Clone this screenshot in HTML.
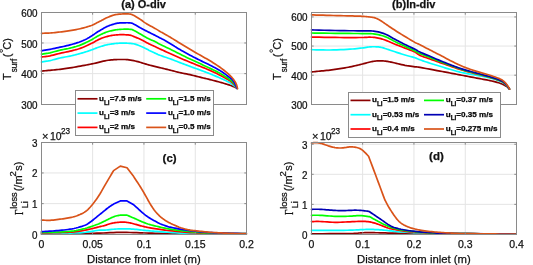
<!DOCTYPE html>
<html><head><meta charset="utf-8"><title>Surface temperature and Li loss</title>
<style>
html,body{margin:0;padding:0;background:#fff;}
body{width:533px;height:265px;overflow:hidden;}
svg{display:block;will-change:transform;}
text{font-family:"Liberation Sans",sans-serif;stroke:#111;stroke-width:0.25px;}
</style></head><body>
<svg width="533" height="265" viewBox="0 0 533 265" font-family="Liberation Sans, sans-serif" fill="#111">
<rect width="533" height="265" fill="#fff"/>
<line x1="92.62" y1="12.50" x2="92.62" y2="104.50" stroke="#e4e4e4" stroke-width="1"/>
<line x1="143.95" y1="12.50" x2="143.95" y2="104.50" stroke="#e4e4e4" stroke-width="1"/>
<line x1="195.27" y1="12.50" x2="195.27" y2="104.50" stroke="#e4e4e4" stroke-width="1"/>
<line x1="41.50" y1="73.63" x2="246.50" y2="73.63" stroke="#e4e4e4" stroke-width="1"/>
<line x1="41.50" y1="42.97" x2="246.50" y2="42.97" stroke="#e4e4e4" stroke-width="1"/>
<line x1="362.62" y1="12.50" x2="362.62" y2="104.50" stroke="#e4e4e4" stroke-width="1"/>
<line x1="413.95" y1="12.50" x2="413.95" y2="104.50" stroke="#e4e4e4" stroke-width="1"/>
<line x1="465.27" y1="12.50" x2="465.27" y2="104.50" stroke="#e4e4e4" stroke-width="1"/>
<line x1="311.50" y1="75.18" x2="516.50" y2="75.18" stroke="#e4e4e4" stroke-width="1"/>
<line x1="311.50" y1="46.06" x2="516.50" y2="46.06" stroke="#e4e4e4" stroke-width="1"/>
<line x1="311.50" y1="16.94" x2="516.50" y2="16.94" stroke="#e4e4e4" stroke-width="1"/>
<line x1="92.62" y1="142.50" x2="92.62" y2="234.50" stroke="#e4e4e4" stroke-width="1"/>
<line x1="143.95" y1="142.50" x2="143.95" y2="234.50" stroke="#e4e4e4" stroke-width="1"/>
<line x1="195.27" y1="142.50" x2="195.27" y2="234.50" stroke="#e4e4e4" stroke-width="1"/>
<line x1="41.50" y1="203.63" x2="246.50" y2="203.63" stroke="#e4e4e4" stroke-width="1"/>
<line x1="41.50" y1="172.96" x2="246.50" y2="172.96" stroke="#e4e4e4" stroke-width="1"/>
<line x1="362.62" y1="142.50" x2="362.62" y2="234.50" stroke="#e4e4e4" stroke-width="1"/>
<line x1="413.95" y1="142.50" x2="413.95" y2="234.50" stroke="#e4e4e4" stroke-width="1"/>
<line x1="465.27" y1="142.50" x2="465.27" y2="234.50" stroke="#e4e4e4" stroke-width="1"/>
<line x1="311.50" y1="204.35" x2="516.50" y2="204.35" stroke="#e4e4e4" stroke-width="1"/>
<line x1="311.50" y1="174.30" x2="516.50" y2="174.30" stroke="#e4e4e4" stroke-width="1"/>
<line x1="311.50" y1="144.25" x2="516.50" y2="144.25" stroke="#e4e4e4" stroke-width="1"/>
<polyline points="41.50,71.10 42.41,71.02 43.65,70.90 45.12,70.76 46.74,70.61 48.40,70.45 50.00,70.30 51.58,70.15 53.22,70.00 54.91,69.84 56.61,69.67 58.32,69.49 60.00,69.30 61.64,69.10 63.24,68.89 64.84,68.67 66.48,68.44 68.19,68.18 70.00,67.90 71.95,67.58 74.03,67.23 76.17,66.85 78.33,66.46 80.46,66.08 82.50,65.70 84.45,65.34 86.36,64.99 88.23,64.63 90.09,64.27 91.94,63.90 93.80,63.50 95.70,63.06 97.62,62.58 99.54,62.08 101.43,61.60 103.26,61.16 105.00,60.80 106.65,60.51 108.24,60.28 109.76,60.09 111.23,59.94 112.64,59.81 114.00,59.70 115.29,59.61 116.50,59.55 117.65,59.52 118.77,59.50 119.88,59.50 121.00,59.50 122.10,59.49 123.14,59.49 124.17,59.49 125.24,59.51 126.37,59.58 127.60,59.70 128.99,59.88 130.52,60.12 132.11,60.39 133.70,60.69 135.22,61.00 136.60,61.30 137.81,61.60 138.90,61.91 139.92,62.22 140.92,62.55 141.93,62.87 143.00,63.20 144.08,63.52 145.13,63.83 146.19,64.14 147.32,64.47 148.57,64.82 150.00,65.20 151.68,65.63 153.58,66.10 155.60,66.59 157.64,67.09 159.61,67.56 161.40,68.00 162.99,68.39 164.44,68.74 165.82,69.07 167.18,69.40 168.55,69.74 170.00,70.10 171.51,70.48 173.03,70.89 174.58,71.29 176.15,71.70 177.75,72.11 179.40,72.50 181.10,72.87 182.87,73.24 184.66,73.59 186.47,73.95 188.25,74.32 190.00,74.70 191.70,75.10 193.38,75.51 195.04,75.94 196.69,76.36 198.34,76.79 200.00,77.20 201.67,77.60 203.33,78.00 205.00,78.39 206.67,78.79 208.33,79.19 210.00,79.60 211.69,80.02 213.41,80.46 215.12,80.90 216.81,81.34 218.45,81.78 220.00,82.20 221.48,82.62 222.93,83.04 224.31,83.45 225.63,83.85 226.86,84.24 228.00,84.60 229.02,84.93 229.93,85.24 230.75,85.53 231.52,85.81 232.26,86.10 233.00,86.40 233.77,86.73 234.56,87.10 235.31,87.46 236.00,87.80 236.58,88.09 237.00,88.30" fill="none" stroke="#8b0000" stroke-width="1.70" stroke-linejoin="round" stroke-linecap="round"/>
<polyline points="41.50,62.00 42.41,61.86 43.65,61.68 45.12,61.46 46.74,61.21 48.40,60.92 50.00,60.60 51.58,60.23 53.22,59.80 54.91,59.33 56.61,58.86 58.32,58.41 60.00,58.00 61.68,57.65 63.37,57.33 65.07,57.02 66.75,56.73 68.40,56.43 70.00,56.10 71.57,55.75 73.11,55.39 74.63,55.01 76.11,54.64 77.53,54.26 78.90,53.90 80.20,53.54 81.44,53.19 82.62,52.84 83.77,52.50 84.90,52.15 86.00,51.80 87.09,51.45 88.15,51.09 89.19,50.74 90.19,50.39 91.16,50.04 92.10,49.70 92.99,49.37 93.84,49.04 94.65,48.71 95.44,48.40 96.22,48.09 97.00,47.80 97.77,47.52 98.53,47.26 99.28,47.01 100.01,46.77 100.75,46.53 101.50,46.30 102.24,46.07 102.98,45.84 103.72,45.61 104.46,45.40 105.22,45.19 106.00,45.00 106.79,44.83 107.57,44.67 108.37,44.52 109.20,44.38 110.07,44.24 111.00,44.10 112.01,43.95 113.09,43.80 114.21,43.66 115.36,43.52 116.49,43.40 117.60,43.30 118.72,43.23 119.87,43.18 121.02,43.14 122.13,43.12 123.13,43.11 124.00,43.10 124.64,43.09 125.07,43.08 125.40,43.08 125.76,43.10 126.25,43.13 127.00,43.20 128.02,43.27 129.22,43.32 130.56,43.40 132.00,43.53 133.49,43.76 135.00,44.10 136.61,44.62 138.37,45.29 140.19,46.04 141.96,46.83 143.60,47.57 145.00,48.20 146.12,48.72 147.04,49.19 147.81,49.61 148.52,50.01 149.22,50.40 150.00,50.80 150.83,51.20 151.67,51.59 152.50,51.97 153.33,52.35 154.17,52.73 155.00,53.10 155.78,53.46 156.48,53.79 157.19,54.12 157.96,54.47 158.88,54.86 160.00,55.30 161.38,55.80 162.96,56.36 164.69,56.95 166.48,57.56 168.28,58.18 170.00,58.80 171.67,59.42 173.33,60.04 175.00,60.68 176.67,61.32 178.33,61.96 180.00,62.60 181.67,63.24 183.33,63.87 185.00,64.51 186.67,65.15 188.33,65.78 190.00,66.40 191.67,67.01 193.33,67.61 195.00,68.20 196.67,68.79 198.33,69.39 200.00,70.00 201.67,70.62 203.33,71.24 205.00,71.86 206.67,72.50 208.33,73.14 210.00,73.80 211.69,74.48 213.41,75.19 215.12,75.90 216.81,76.61 218.45,77.32 220.00,78.00 221.48,78.67 222.93,79.33 224.31,79.97 225.63,80.61 226.86,81.22 228.00,81.80 229.02,82.34 229.93,82.84 230.75,83.32 231.52,83.79 232.26,84.28 233.00,84.80 233.77,85.39 234.56,86.06 235.31,86.74 236.00,87.37 236.58,87.91 237.00,88.30" fill="none" stroke="#00ffff" stroke-width="1.70" stroke-linejoin="round" stroke-linecap="round"/>
<polyline points="41.50,57.00 42.41,56.88 43.65,56.74 45.12,56.56 46.74,56.34 48.40,56.09 50.00,55.80 51.58,55.45 53.22,55.05 54.91,54.61 56.61,54.15 58.32,53.71 60.00,53.30 61.68,52.93 63.37,52.58 65.07,52.24 66.75,51.91 68.40,51.56 70.00,51.20 71.57,50.82 73.11,50.44 74.63,50.04 76.11,49.64 77.53,49.23 78.90,48.80 80.20,48.36 81.44,47.90 82.62,47.43 83.77,46.96 84.90,46.48 86.00,46.00 87.09,45.52 88.15,45.03 89.19,44.54 90.19,44.06 91.16,43.57 92.10,43.10 92.99,42.63 93.84,42.16 94.65,41.70 95.44,41.25 96.22,40.81 97.00,40.40 97.77,40.01 98.53,39.63 99.28,39.27 100.01,38.93 100.75,38.61 101.50,38.30 102.24,38.01 102.98,37.74 103.72,37.49 104.46,37.26 105.22,37.03 106.00,36.80 106.79,36.58 107.57,36.36 108.37,36.16 109.20,35.96 110.07,35.77 111.00,35.60 112.01,35.44 113.09,35.28 114.21,35.13 115.36,35.00 116.49,34.89 117.60,34.80 118.68,34.74 119.76,34.69 120.83,34.67 121.90,34.66 122.95,34.67 124.00,34.70 125.06,34.74 126.14,34.79 127.21,34.86 128.24,34.94 129.21,35.06 130.10,35.20 130.85,35.37 131.47,35.55 132.04,35.76 132.60,36.00 133.24,36.28 134.00,36.60 134.92,36.97 135.94,37.39 137.04,37.85 138.16,38.33 139.26,38.82 140.30,39.30 141.30,39.79 142.31,40.31 143.29,40.84 144.25,41.36 145.16,41.85 146.00,42.30 146.75,42.69 147.42,43.03 148.04,43.34 148.66,43.65 149.30,43.96 150.00,44.30 150.78,44.66 151.59,45.04 152.44,45.42 153.30,45.81 154.16,46.21 155.00,46.60 155.78,46.97 156.48,47.31 157.19,47.66 157.96,48.04 158.88,48.48 160.00,49.00 161.38,49.63 162.96,50.34 164.69,51.12 166.48,51.92 168.28,52.73 170.00,53.50 171.67,54.25 173.33,55.01 175.00,55.77 176.67,56.52 178.33,57.27 180.00,58.00 181.67,58.72 183.33,59.43 185.00,60.12 186.67,60.82 188.33,61.51 190.00,62.20 191.67,62.89 193.33,63.57 195.00,64.26 196.67,64.94 198.33,65.62 200.00,66.30 201.67,66.98 203.33,67.64 205.00,68.31 206.67,68.98 208.33,69.68 210.00,70.40 211.69,71.16 213.41,71.96 215.12,72.78 216.81,73.60 218.45,74.42 220.00,75.20 221.48,75.96 222.93,76.72 224.31,77.47 225.63,78.20 226.86,78.91 228.00,79.60 229.02,80.24 229.93,80.84 230.75,81.41 231.52,82.00 232.26,82.62 233.00,83.30 233.77,84.12 234.56,85.06 235.31,86.03 236.00,86.96 236.58,87.74 237.00,88.30" fill="none" stroke="#ff0000" stroke-width="1.70" stroke-linejoin="round" stroke-linecap="round"/>
<polyline points="41.50,54.20 42.41,54.06 43.65,53.88 45.12,53.66 46.74,53.41 48.40,53.12 50.00,52.80 51.58,52.43 53.22,52.00 54.91,51.54 56.61,51.07 58.32,50.62 60.00,50.20 61.68,49.83 63.37,49.48 65.07,49.14 66.75,48.81 68.40,48.47 70.00,48.10 71.57,47.71 73.11,47.31 74.63,46.91 76.11,46.49 77.53,46.05 78.90,45.60 80.20,45.13 81.44,44.64 82.62,44.14 83.77,43.63 84.90,43.12 86.00,42.60 87.09,42.07 88.15,41.54 89.19,40.99 90.19,40.45 91.16,39.92 92.10,39.40 92.99,38.89 93.84,38.39 94.65,37.89 95.44,37.41 96.22,36.95 97.00,36.50 97.77,36.08 98.53,35.67 99.28,35.29 100.01,34.91 100.75,34.55 101.50,34.20 102.24,33.86 102.98,33.52 103.72,33.20 104.46,32.89 105.22,32.59 106.00,32.30 106.79,32.02 107.57,31.76 108.37,31.51 109.20,31.26 110.07,31.03 111.00,30.80 112.01,30.57 113.09,30.35 114.21,30.13 115.36,29.93 116.49,29.75 117.60,29.60 118.68,29.48 119.76,29.39 120.83,29.32 121.90,29.27 122.95,29.23 124.00,29.20 125.07,29.18 126.16,29.17 127.24,29.17 128.28,29.19 129.24,29.23 130.10,29.30 130.78,29.37 131.31,29.43 131.76,29.52 132.21,29.66 132.77,29.87 133.50,30.20 134.46,30.68 135.59,31.29 136.82,31.98 138.06,32.70 139.25,33.39 140.30,34.00 141.20,34.53 142.01,35.01 142.76,35.47 143.49,35.92 144.22,36.36 145.00,36.80 145.82,37.25 146.64,37.70 147.48,38.14 148.32,38.58 149.16,39.00 150.00,39.40 150.83,39.77 151.67,40.11 152.50,40.44 153.33,40.77 154.17,41.12 155.00,41.50 155.78,41.90 156.48,42.31 157.19,42.73 157.96,43.19 158.88,43.71 160.00,44.30 161.38,44.98 162.96,45.74 164.69,46.56 166.48,47.41 168.28,48.27 170.00,49.10 171.67,49.92 173.33,50.76 175.00,51.59 176.67,52.43 178.33,53.27 180.00,54.10 181.67,54.93 183.33,55.75 185.00,56.58 186.67,57.39 188.33,58.20 190.00,59.00 191.67,59.78 193.33,60.55 195.00,61.31 196.67,62.07 198.33,62.83 200.00,63.60 201.67,64.37 203.33,65.15 205.00,65.92 206.67,66.71 208.33,67.50 210.00,68.30 211.69,69.12 213.41,69.94 215.12,70.78 216.81,71.62 218.45,72.46 220.00,73.30 221.48,74.14 222.93,75.00 224.31,75.86 225.63,76.71 226.86,77.52 228.00,78.30 229.02,79.00 229.93,79.63 230.75,80.24 231.52,80.86 232.26,81.53 233.00,82.30 233.77,83.25 234.56,84.37 235.31,85.55 236.00,86.67 236.58,87.62 237.00,88.30" fill="none" stroke="#00ff00" stroke-width="1.70" stroke-linejoin="round" stroke-linecap="round"/>
<polyline points="41.50,50.80 42.41,50.64 43.65,50.43 45.12,50.18 46.74,49.90 48.40,49.60 50.00,49.30 51.58,48.99 53.22,48.65 54.91,48.30 56.61,47.94 58.32,47.57 60.00,47.20 61.68,46.83 63.37,46.46 65.07,46.09 66.75,45.70 68.40,45.31 70.00,44.90 71.57,44.48 73.11,44.04 74.63,43.59 76.11,43.14 77.53,42.67 78.90,42.20 80.20,41.72 81.44,41.24 82.62,40.76 83.77,40.26 84.90,39.74 86.00,39.20 87.09,38.63 88.15,38.03 89.19,37.42 90.19,36.80 91.16,36.19 92.10,35.60 92.99,35.03 93.84,34.46 94.65,33.89 95.44,33.34 96.22,32.81 97.00,32.30 97.77,31.81 98.53,31.35 99.28,30.91 100.01,30.47 100.75,30.04 101.50,29.60 102.24,29.15 102.98,28.70 103.72,28.26 104.46,27.82 105.22,27.40 106.00,27.00 106.79,26.63 107.57,26.28 108.37,25.95 109.20,25.63 110.07,25.31 111.00,25.00 112.01,24.67 113.07,24.33 114.19,24.00 115.33,23.69 116.47,23.42 117.60,23.20 118.73,23.05 119.89,22.94 121.06,22.88 122.21,22.84 123.33,22.82 124.40,22.80 125.44,22.78 126.47,22.76 127.46,22.76 128.41,22.78 129.30,22.83 130.10,22.90 130.76,22.98 131.28,23.06 131.73,23.16 132.20,23.32 132.76,23.56 133.50,23.90 134.46,24.40 135.60,25.04 136.83,25.76 138.08,26.50 139.26,27.20 140.30,27.80 141.18,28.28 141.94,28.70 142.65,29.08 143.33,29.44 144.04,29.81 144.80,30.20 145.63,30.62 146.49,31.06 147.37,31.49 148.26,31.93 149.14,32.37 150.00,32.80 150.84,33.22 151.68,33.64 152.51,34.05 153.34,34.46 154.17,34.88 155.00,35.30 155.83,35.73 156.67,36.16 157.50,36.59 158.33,37.03 159.17,37.47 160.00,37.90 160.83,38.33 161.67,38.75 162.50,39.18 163.33,39.60 164.17,40.04 165.00,40.50 165.83,40.98 166.67,41.47 167.50,41.97 168.33,42.48 169.17,42.99 170.00,43.50 170.83,44.01 171.67,44.53 172.50,45.05 173.33,45.57 174.17,46.09 175.00,46.60 175.78,47.08 176.48,47.51 177.19,47.94 177.96,48.41 178.88,48.95 180.00,49.60 181.38,50.39 182.96,51.29 184.69,52.27 186.48,53.27 188.28,54.27 190.00,55.20 191.67,56.08 193.33,56.94 195.00,57.79 196.67,58.63 198.33,59.47 200.00,60.30 201.67,61.12 203.33,61.93 205.00,62.73 206.67,63.54 208.33,64.36 210.00,65.20 211.69,66.07 213.41,66.96 215.12,67.86 216.81,68.77 218.45,69.68 220.00,70.60 221.48,71.54 222.93,72.50 224.31,73.46 225.63,74.41 226.86,75.33 228.00,76.20 229.02,76.96 229.93,77.63 230.75,78.27 231.52,78.93 232.26,79.69 233.00,80.60 233.77,81.78 234.56,83.21 235.31,84.72 236.00,86.18 236.58,87.42 237.00,88.30" fill="none" stroke="#0000ff" stroke-width="1.70" stroke-linejoin="round" stroke-linecap="round"/>
<polyline points="41.50,33.30 42.41,33.28 43.65,33.25 45.12,33.21 46.74,33.16 48.40,33.09 50.00,33.00 51.58,32.88 53.22,32.73 54.91,32.57 56.61,32.39 58.32,32.20 60.00,32.00 61.68,31.79 63.37,31.57 65.07,31.34 66.75,31.10 68.40,30.85 70.00,30.60 71.57,30.35 73.11,30.09 74.63,29.83 76.11,29.56 77.53,29.28 78.90,29.00 80.20,28.71 81.44,28.42 82.62,28.12 83.77,27.82 84.90,27.51 86.00,27.20 87.09,26.88 88.17,26.56 89.22,26.23 90.23,25.89 91.19,25.55 92.10,25.20 92.92,24.85 93.67,24.49 94.37,24.13 95.05,23.76 95.75,23.39 96.50,23.00 97.30,22.60 98.14,22.19 98.99,21.76 99.85,21.34 100.69,20.91 101.50,20.50 102.28,20.09 103.06,19.67 103.81,19.25 104.56,18.84 105.28,18.46 106.00,18.10 106.70,17.77 107.37,17.47 108.03,17.19 108.69,16.92 109.34,16.66 110.00,16.40 110.67,16.14 111.33,15.89 112.00,15.64 112.67,15.40 113.33,15.19 114.00,15.00 114.64,14.84 115.26,14.70 115.88,14.59 116.52,14.49 117.22,14.39 118.00,14.30 118.88,14.21 119.85,14.12 120.87,14.04 121.92,13.98 122.97,13.93 124.00,13.90 125.04,13.89 126.13,13.89 127.21,13.90 128.26,13.94 129.24,14.00 130.10,14.10 130.78,14.21 131.31,14.32 131.76,14.46 132.21,14.65 132.77,14.92 133.50,15.30 134.46,15.83 135.60,16.49 136.83,17.22 138.08,17.99 139.26,18.74 140.30,19.40 141.18,19.99 141.94,20.54 142.65,21.06 143.33,21.57 144.04,22.08 144.80,22.60 145.63,23.13 146.49,23.66 147.37,24.18 148.26,24.70 149.14,25.21 150.00,25.70 150.84,26.17 151.68,26.62 152.51,27.06 153.34,27.49 154.17,27.94 155.00,28.40 155.83,28.88 156.67,29.39 157.50,29.89 158.33,30.40 159.17,30.91 160.00,31.40 160.83,31.88 161.67,32.34 162.50,32.81 163.33,33.27 164.17,33.73 165.00,34.20 165.78,34.64 166.48,35.04 167.19,35.44 167.96,35.89 168.88,36.43 170.00,37.10 171.38,37.93 172.96,38.90 174.69,39.96 176.48,41.06 178.28,42.15 180.00,43.20 181.67,44.21 183.33,45.21 185.00,46.21 186.67,47.21 188.33,48.21 190.00,49.20 191.67,50.19 193.33,51.18 195.00,52.17 196.67,53.15 198.33,54.13 200.00,55.10 201.67,56.05 203.33,56.99 205.00,57.91 206.67,58.85 208.33,59.81 210.00,60.80 211.69,61.84 213.41,62.91 215.12,64.01 216.81,65.12 218.45,66.22 220.00,67.30 221.48,68.37 222.93,69.46 224.31,70.53 225.63,71.59 226.86,72.62 228.00,73.60 229.03,74.54 229.96,75.43 230.81,76.30 231.59,77.14 232.32,77.97 233.00,78.80 233.63,79.61 234.20,80.39 234.71,81.16 235.18,81.92 235.60,82.70 236.00,83.50 236.37,84.39 236.70,85.36 236.99,86.34 237.24,87.26 237.44,88.04 237.60,88.60" fill="none" stroke="#d95319" stroke-width="1.70" stroke-linejoin="round" stroke-linecap="round"/>
<polyline points="311.50,72.00 312.41,71.90 313.65,71.77 315.12,71.61 316.74,71.44 318.40,71.27 320.00,71.10 321.58,70.94 323.22,70.79 324.91,70.64 326.61,70.47 328.32,70.30 330.00,70.10 331.67,69.88 333.33,69.64 335.00,69.39 336.67,69.13 338.33,68.87 340.00,68.60 341.67,68.34 343.33,68.07 345.00,67.80 346.67,67.52 348.33,67.22 350.00,66.90 351.70,66.55 353.44,66.16 355.19,65.76 356.89,65.35 358.51,64.96 360.00,64.60 361.35,64.27 362.59,63.95 363.75,63.64 364.85,63.35 365.93,63.07 367.00,62.80 368.06,62.53 369.07,62.27 370.06,62.02 371.04,61.79 372.01,61.58 373.00,61.40 374.00,61.24 375.00,61.11 376.00,60.99 377.00,60.90 378.00,60.84 379.00,60.80 380.01,60.79 381.04,60.81 382.06,60.86 383.07,60.93 384.06,61.01 385.00,61.10 385.89,61.20 386.74,61.32 387.56,61.45 388.37,61.59 389.18,61.74 390.00,61.90 390.78,62.05 391.48,62.20 392.19,62.36 392.96,62.53 393.88,62.74 395.00,63.00 396.38,63.32 397.96,63.71 399.69,64.12 401.48,64.55 403.28,64.95 405.00,65.30 406.72,65.61 408.52,65.89 410.31,66.16 412.04,66.40 413.62,66.61 415.00,66.80 415.95,66.92 416.48,66.95 416.88,66.96 417.41,67.00 418.36,67.13 420.00,67.40 422.58,67.86 425.93,68.47 429.69,69.17 433.52,69.89 437.07,70.55 440.00,71.10 442.25,71.52 444.07,71.87 445.62,72.16 447.04,72.43 448.45,72.70 450.00,73.00 451.67,73.32 453.33,73.63 455.00,73.95 456.67,74.27 458.33,74.58 460.00,74.90 461.67,75.22 463.33,75.53 465.00,75.85 466.67,76.17 468.33,76.48 470.00,76.80 471.67,77.12 473.33,77.43 475.00,77.75 476.67,78.07 478.33,78.38 480.00,78.70 481.67,79.01 483.33,79.31 485.00,79.61 486.67,79.91 488.33,80.24 490.00,80.60 491.72,81.00 493.52,81.42 495.31,81.87 497.04,82.32 498.62,82.77 500.00,83.20 501.15,83.62 502.11,84.03 502.94,84.44 503.67,84.84 504.34,85.23 505.00,85.60 505.63,85.95 506.20,86.28 506.71,86.59 507.18,86.90 507.60,87.20 508.00,87.50 508.37,87.81 508.70,88.14 508.99,88.47 509.24,88.77 509.44,89.02 509.60,89.20" fill="none" stroke="#8b0000" stroke-width="1.70" stroke-linejoin="round" stroke-linecap="round"/>
<polyline points="311.50,49.70 313.50,49.75 316.24,49.82 319.50,49.90 323.04,49.97 326.62,50.01 330.00,50.00 333.34,49.93 336.85,49.83 340.41,49.69 343.87,49.54 347.11,49.37 350.00,49.20 352.51,49.02 354.74,48.83 356.75,48.62 358.59,48.41 360.32,48.20 362.00,48.00 363.59,47.80 365.04,47.59 366.38,47.38 367.63,47.19 368.83,47.02 370.00,46.90 371.13,46.82 372.19,46.77 373.19,46.75 374.15,46.75 375.08,46.77 376.00,46.80 376.89,46.84 377.74,46.89 378.56,46.95 379.37,47.04 380.18,47.15 381.00,47.30 381.79,47.47 382.52,47.67 383.25,47.89 384.04,48.15 384.94,48.45 386.00,48.80 387.26,49.21 388.67,49.68 390.19,50.19 391.78,50.73 393.40,51.27 395.00,51.80 396.61,52.33 398.26,52.87 399.94,53.41 401.63,53.96 403.32,54.49 405.00,55.00 406.72,55.50 408.52,55.99 410.31,56.48 412.04,56.94 413.62,57.38 415.00,57.80 416.06,58.16 416.85,58.47 417.50,58.76 418.15,59.06 418.94,59.39 420.00,59.80 421.38,60.29 422.96,60.84 424.69,61.43 426.48,62.04 428.28,62.63 430.00,63.20 431.67,63.74 433.33,64.26 435.00,64.78 436.67,65.29 438.33,65.79 440.00,66.30 441.67,66.81 443.33,67.31 445.00,67.82 446.67,68.32 448.33,68.81 450.00,69.30 451.67,69.79 453.33,70.28 455.00,70.76 456.67,71.23 458.33,71.68 460.00,72.10 461.67,72.48 463.33,72.83 465.00,73.16 466.67,73.48 468.33,73.79 470.00,74.10 471.67,74.41 473.33,74.70 475.00,74.99 476.67,75.29 478.33,75.58 480.00,75.90 481.67,76.22 483.33,76.54 485.00,76.86 486.67,77.21 488.33,77.58 490.00,78.00 491.72,78.47 493.52,79.00 495.31,79.56 497.04,80.12 498.62,80.68 500.00,81.20 501.13,81.66 502.06,82.08 502.85,82.49 503.56,82.92 504.26,83.41 505.00,84.00 505.82,84.76 506.67,85.69 507.51,86.67 508.28,87.62 508.93,88.43 509.40,89.00" fill="none" stroke="#00ffff" stroke-width="1.70" stroke-linejoin="round" stroke-linecap="round"/>
<polyline points="311.50,37.10 314.68,37.15 319.13,37.22 324.38,37.30 329.93,37.38 335.30,37.45 340.00,37.50 344.20,37.53 348.33,37.54 352.28,37.54 355.94,37.54 359.22,37.52 362.00,37.50 364.16,37.46 365.74,37.39 366.94,37.31 367.93,37.24 368.89,37.20 370.00,37.20 371.21,37.23 372.37,37.27 373.50,37.34 374.63,37.45 375.79,37.60 377.00,37.80 378.25,38.05 379.52,38.34 380.81,38.67 382.15,39.06 383.54,39.50 385.00,40.00 386.55,40.59 388.19,41.26 389.88,41.99 391.59,42.75 393.31,43.49 395.00,44.20 396.67,44.87 398.33,45.52 400.00,46.16 401.67,46.80 403.33,47.45 405.00,48.10 406.72,48.77 408.52,49.45 410.31,50.14 412.04,50.81 413.62,51.47 415.00,52.10 416.06,52.69 416.85,53.24 417.50,53.77 418.15,54.30 418.94,54.84 420.00,55.40 421.38,55.98 422.96,56.58 424.69,57.18 426.48,57.79 428.28,58.40 430.00,59.00 431.67,59.60 433.33,60.21 435.00,60.81 436.67,61.41 438.33,62.01 440.00,62.60 441.67,63.18 443.33,63.74 445.00,64.31 446.67,64.87 448.33,65.43 450.00,66.00 451.67,66.59 453.33,67.19 455.00,67.79 456.67,68.38 458.33,68.96 460.00,69.50 461.67,70.01 463.33,70.50 465.00,70.96 466.67,71.41 468.33,71.86 470.00,72.30 471.67,72.73 473.33,73.15 475.00,73.56 476.67,73.97 478.33,74.38 480.00,74.80 481.67,75.22 483.33,75.63 485.00,76.05 486.67,76.48 488.33,76.92 490.00,77.40 491.72,77.91 493.52,78.46 495.31,79.03 497.04,79.60 498.62,80.17 500.00,80.70 501.13,81.18 502.06,81.60 502.85,82.02 503.56,82.46 504.26,82.98 505.00,83.60 505.82,84.42 506.67,85.41 507.51,86.48 508.28,87.51 508.93,88.38 509.40,89.00" fill="none" stroke="#ff0000" stroke-width="1.70" stroke-linejoin="round" stroke-linecap="round"/>
<polyline points="311.50,33.00 314.64,33.05 319.02,33.11 324.19,33.19 329.70,33.27 335.12,33.34 340.00,33.40 344.54,33.44 349.15,33.47 353.66,33.49 357.91,33.52 361.74,33.55 365.00,33.60 367.53,33.64 369.44,33.67 370.94,33.71 372.22,33.77 373.51,33.90 375.00,34.10 376.67,34.37 378.33,34.69 380.00,35.07 381.67,35.51 383.33,36.02 385.00,36.60 386.67,37.29 388.33,38.09 390.00,38.96 391.67,39.86 393.33,40.76 395.00,41.60 396.67,42.40 398.33,43.19 400.00,43.97 401.67,44.74 403.33,45.52 405.00,46.30 406.72,47.11 408.52,47.94 410.31,48.78 412.04,49.59 413.62,50.34 415.00,51.00 416.06,51.54 416.85,51.97 417.50,52.35 418.15,52.71 418.94,53.12 420.00,53.60 421.38,54.17 422.96,54.80 424.69,55.46 426.48,56.14 428.28,56.83 430.00,57.50 431.67,58.16 433.33,58.84 435.00,59.51 436.67,60.19 438.33,60.85 440.00,61.50 441.67,62.14 443.33,62.76 445.00,63.37 446.67,63.99 448.33,64.59 450.00,65.20 451.67,65.81 453.33,66.43 455.00,67.04 456.67,67.65 458.33,68.24 460.00,68.80 461.67,69.34 463.33,69.86 465.00,70.36 466.67,70.85 468.33,71.33 470.00,71.80 471.67,72.26 473.33,72.69 475.00,73.12 476.67,73.54 478.33,73.97 480.00,74.40 481.67,74.84 483.33,75.27 485.00,75.70 486.67,76.14 488.33,76.61 490.00,77.10 491.72,77.63 493.52,78.20 495.31,78.78 497.04,79.37 498.62,79.95 500.00,80.50 501.13,80.99 502.06,81.44 502.85,81.87 503.56,82.33 504.26,82.86 505.00,83.50 505.82,84.34 506.67,85.35 507.51,86.44 508.28,87.48 508.93,88.37 509.40,89.00" fill="none" stroke="#00ff00" stroke-width="1.70" stroke-linejoin="round" stroke-linecap="round"/>
<polyline points="311.50,29.90 314.64,29.98 319.02,30.10 324.19,30.23 329.70,30.37 335.12,30.50 340.00,30.60 344.54,30.67 349.15,30.73 353.66,30.77 357.91,30.81 361.74,30.85 365.00,30.90 367.53,30.93 369.44,30.94 370.94,30.95 372.22,30.99 373.51,31.10 375.00,31.30 376.67,31.59 378.33,31.93 380.00,32.34 381.67,32.82 383.33,33.37 385.00,34.00 386.67,34.73 388.33,35.58 390.00,36.49 391.67,37.44 393.33,38.39 395.00,39.30 396.67,40.18 398.33,41.06 400.00,41.93 401.67,42.80 403.33,43.66 405.00,44.50 406.72,45.35 408.52,46.20 410.31,47.05 412.04,47.86 413.62,48.62 415.00,49.30 416.06,49.87 416.85,50.33 417.50,50.74 418.15,51.14 418.94,51.58 420.00,52.10 421.38,52.72 422.96,53.39 424.69,54.11 426.48,54.84 428.28,55.58 430.00,56.30 431.67,57.01 433.33,57.74 435.00,58.46 436.67,59.19 438.33,59.90 440.00,60.60 441.67,61.29 443.33,61.97 445.00,62.64 446.67,63.30 448.33,63.95 450.00,64.60 451.67,65.24 453.33,65.88 455.00,66.51 456.67,67.13 458.33,67.73 460.00,68.30 461.67,68.84 463.33,69.36 465.00,69.86 466.67,70.35 468.33,70.83 470.00,71.30 471.67,71.77 473.33,72.22 475.00,72.66 476.67,73.10 478.33,73.55 480.00,74.00 481.67,74.45 483.33,74.90 485.00,75.36 486.67,75.82 488.33,76.30 490.00,76.80 491.72,77.34 493.52,77.90 495.31,78.48 497.04,79.07 498.62,79.64 500.00,80.20 501.13,80.70 502.06,81.16 502.85,81.61 503.56,82.09 504.26,82.64 505.00,83.30 505.82,84.17 506.67,85.22 507.51,86.34 508.28,87.43 508.93,88.35 509.40,89.00" fill="none" stroke="#0000b4" stroke-width="1.70" stroke-linejoin="round" stroke-linecap="round"/>
<polyline points="311.50,14.90 313.50,14.95 316.24,15.03 319.50,15.12 323.04,15.21 326.62,15.31 330.00,15.40 333.34,15.48 336.85,15.57 340.41,15.66 343.87,15.74 347.11,15.82 350.00,15.90 352.51,15.97 354.74,16.03 356.75,16.09 358.59,16.15 360.32,16.22 362.00,16.30 363.60,16.40 365.07,16.50 366.44,16.62 367.70,16.74 368.89,16.87 370.00,17.00 371.01,17.12 371.89,17.23 372.69,17.35 373.44,17.49 374.20,17.67 375.00,17.90 375.83,18.19 376.67,18.52 377.50,18.89 378.33,19.30 379.17,19.74 380.00,20.20 380.83,20.70 381.67,21.25 382.50,21.83 383.33,22.43 384.17,23.02 385.00,23.60 385.83,24.17 386.67,24.74 387.50,25.31 388.33,25.87 389.17,26.44 390.00,27.00 390.78,27.52 391.48,28.00 392.19,28.48 392.96,28.99 393.88,29.58 395.00,30.30 396.38,31.17 397.96,32.16 399.69,33.24 401.48,34.35 403.28,35.45 405.00,36.50 406.72,37.54 408.52,38.62 410.31,39.69 412.04,40.71 413.62,41.63 415.00,42.40 416.06,42.96 416.85,43.32 417.50,43.59 418.15,43.84 418.94,44.18 420.00,44.70 421.38,45.41 422.96,46.25 424.69,47.18 426.48,48.14 428.28,49.09 430.00,50.00 431.67,50.86 433.33,51.71 435.00,52.55 436.67,53.39 438.33,54.24 440.00,55.10 441.67,55.98 443.33,56.87 445.00,57.76 446.67,58.66 448.33,59.54 450.00,60.40 451.67,61.25 453.33,62.10 455.00,62.94 456.67,63.76 458.33,64.55 460.00,65.30 461.67,66.02 463.33,66.70 465.00,67.36 466.67,67.99 468.33,68.60 470.00,69.20 471.67,69.78 473.33,70.33 475.00,70.86 476.67,71.38 478.33,71.89 480.00,72.40 481.67,72.89 483.33,73.36 485.00,73.83 486.67,74.29 488.33,74.78 490.00,75.30 491.72,75.86 493.52,76.45 495.31,77.06 497.04,77.68 498.62,78.30 500.00,78.90 501.15,79.48 502.11,80.06 502.94,80.63 503.67,81.21 504.34,81.79 505.00,82.40 505.63,83.04 506.20,83.71 506.71,84.39 507.18,85.06 507.60,85.70 508.00,86.30 508.37,86.87 508.70,87.45 508.99,87.99 509.24,88.49 509.44,88.90 509.60,89.20" fill="none" stroke="#d95319" stroke-width="1.70" stroke-linejoin="round" stroke-linecap="round"/>
<polyline points="41.50,233.90 45.90,233.87 52.17,233.83 59.50,233.78 67.11,233.73 74.21,233.67 80.00,233.60 84.40,233.53 88.04,233.46 91.16,233.37 94.02,233.29 96.88,233.20 100.00,233.10 103.33,232.98 106.67,232.84 110.00,232.69 113.33,232.56 116.67,232.46 120.00,232.40 123.33,232.40 126.67,232.44 130.00,232.52 133.33,232.61 136.67,232.71 140.00,232.80 143.10,232.89 145.93,232.99 148.75,233.10 151.85,233.21 155.51,233.31 160.00,233.40 165.44,233.48 171.63,233.56 178.38,233.62 185.48,233.69 192.75,233.75 200.00,233.80 207.85,233.85 216.59,233.89 225.50,233.93 233.85,233.96 240.93,233.98 246.00,234.00" fill="none" stroke="#8b0000" stroke-width="1.70" stroke-linejoin="round" stroke-linecap="round"/>
<polyline points="41.50,233.30 43.50,233.29 46.24,233.29 49.50,233.28 53.04,233.26 56.62,233.24 60.00,233.20 63.36,233.16 66.93,233.12 70.53,233.07 74.02,233.00 77.23,232.92 80.00,232.80 82.25,232.65 84.07,232.47 85.62,232.27 87.04,232.05 88.45,231.83 90.00,231.60 91.72,231.35 93.52,231.07 95.31,230.78 97.04,230.50 98.62,230.27 100.00,230.10 101.06,230.02 101.85,230.03 102.50,230.07 103.15,230.12 103.94,230.14 105.00,230.10 106.38,229.98 107.96,229.81 109.69,229.62 111.48,229.42 113.28,229.24 115.00,229.10 116.67,229.00 118.33,228.92 120.00,228.86 121.67,228.81 123.33,228.80 125.00,228.80 126.67,228.83 128.33,228.89 130.00,228.96 131.67,229.06 133.33,229.17 135.00,229.30 136.67,229.45 138.33,229.63 140.00,229.83 141.67,230.03 143.33,230.22 145.00,230.40 146.61,230.56 148.15,230.71 149.69,230.85 151.30,230.99 153.04,231.14 155.00,231.30 157.15,231.47 159.44,231.66 161.88,231.85 164.44,232.04 167.15,232.23 170.00,232.40 172.63,232.57 174.96,232.73 177.44,232.88 180.48,233.03 184.53,233.17 190.00,233.30 197.90,233.42 208.07,233.54 219.25,233.66 230.15,233.76 239.49,233.84 246.00,233.90" fill="none" stroke="#00ffff" stroke-width="1.70" stroke-linejoin="round" stroke-linecap="round"/>
<polyline points="41.50,232.90 43.56,232.87 46.46,232.84 49.88,232.79 53.48,232.74 56.96,232.68 60.00,232.60 62.63,232.52 65.11,232.43 67.47,232.34 69.72,232.22 71.89,232.08 74.00,231.90 76.02,231.68 77.93,231.43 79.75,231.15 81.52,230.85 83.26,230.53 85.00,230.20 86.78,229.84 88.59,229.44 90.38,229.02 92.07,228.61 93.63,228.23 95.00,227.90 96.12,227.62 97.04,227.39 97.81,227.18 98.52,226.99 99.22,226.80 100.00,226.60 100.83,226.40 101.67,226.21 102.50,226.03 103.33,225.83 104.17,225.63 105.00,225.40 105.83,225.14 106.67,224.84 107.50,224.54 108.33,224.23 109.17,223.95 110.00,223.70 110.83,223.49 111.67,223.30 112.50,223.12 113.33,222.97 114.17,222.83 115.00,222.70 115.83,222.58 116.67,222.48 117.50,222.39 118.33,222.31 119.17,222.25 120.00,222.20 120.83,222.16 121.67,222.14 122.50,222.12 123.33,222.13 124.17,222.15 125.00,222.20 125.83,222.27 126.67,222.36 127.50,222.47 128.33,222.60 129.17,222.74 130.00,222.90 130.83,223.08 131.67,223.29 132.50,223.51 133.33,223.74 134.17,223.97 135.00,224.20 135.83,224.43 136.67,224.67 137.50,224.91 138.33,225.14 139.17,225.38 140.00,225.60 140.83,225.81 141.67,226.02 142.50,226.22 143.33,226.41 144.17,226.61 145.00,226.80 145.78,226.98 146.48,227.16 147.19,227.33 147.96,227.51 148.88,227.69 150.00,227.90 151.38,228.13 152.96,228.38 154.69,228.64 156.48,228.90 158.28,229.16 160.00,229.40 161.61,229.63 163.15,229.84 164.69,230.05 166.30,230.26 168.04,230.47 170.00,230.70 172.15,230.94 174.44,231.20 176.88,231.47 179.44,231.73 182.15,231.98 185.00,232.20 187.80,232.40 190.52,232.59 193.38,232.76 196.59,232.91 200.39,233.06 205.00,233.20 211.09,233.33 218.63,233.45 226.75,233.56 234.59,233.66 241.30,233.74 246.00,233.80" fill="none" stroke="#ff0000" stroke-width="1.70" stroke-linejoin="round" stroke-linecap="round"/>
<polyline points="41.50,232.40 43.56,232.37 46.46,232.33 49.88,232.28 53.48,232.21 56.96,232.12 60.00,232.00 62.63,231.86 65.11,231.70 67.47,231.52 69.72,231.31 71.89,231.07 74.00,230.80 76.02,230.49 77.93,230.15 79.75,229.78 81.52,229.38 83.26,228.95 85.00,228.50 86.78,227.99 88.59,227.42 90.38,226.82 92.07,226.23 93.63,225.68 95.00,225.20 96.12,224.81 97.04,224.48 97.81,224.19 98.52,223.92 99.22,223.63 100.00,223.30 100.83,222.93 101.67,222.54 102.50,222.14 103.33,221.73 104.17,221.31 105.00,220.90 105.83,220.48 106.67,220.06 107.50,219.63 108.33,219.21 109.17,218.79 110.00,218.40 110.83,218.02 111.66,217.64 112.48,217.27 113.31,216.92 114.15,216.59 115.00,216.30 115.93,216.03 116.94,215.79 117.96,215.57 118.91,215.38 119.72,215.22 120.30,215.10 127.00,215.20 127.91,215.58 129.19,216.12 130.69,216.76 132.26,217.42 133.75,218.06 135.00,218.60 136.01,219.05 136.89,219.46 137.69,219.84 138.44,220.20 139.20,220.55 140.00,220.90 140.83,221.25 141.67,221.60 142.50,221.94 143.33,222.27 144.17,222.59 145.00,222.90 145.78,223.19 146.48,223.46 147.19,223.72 147.96,223.99 148.88,224.27 150.00,224.60 151.38,224.98 152.96,225.39 154.69,225.83 156.48,226.27 158.28,226.70 160.00,227.10 161.67,227.47 163.33,227.83 165.00,228.17 166.67,228.50 168.33,228.81 170.00,229.10 171.67,229.37 173.33,229.62 175.00,229.86 176.67,230.08 178.33,230.29 180.00,230.50 181.61,230.70 183.15,230.89 184.69,231.06 186.30,231.24 188.04,231.41 190.00,231.60 191.91,231.80 193.67,232.00 195.56,232.21 197.89,232.42 200.94,232.62 205.00,232.80 210.80,232.98 218.26,233.16 226.44,233.33 234.41,233.48 241.24,233.61 246.00,233.70" fill="none" stroke="#00ff00" stroke-width="1.70" stroke-linejoin="round" stroke-linecap="round"/>
<polyline points="41.50,231.60 42.52,231.55 43.91,231.49 45.56,231.41 47.37,231.31 49.22,231.21 51.00,231.10 52.73,230.98 54.52,230.86 56.34,230.72 58.20,230.57 60.09,230.40 62.00,230.20 63.95,229.98 65.96,229.75 68.00,229.50 70.04,229.21 72.05,228.89 74.00,228.50 75.96,228.04 77.96,227.51 79.94,226.93 81.81,226.34 83.53,225.75 85.00,225.20 86.19,224.68 87.15,224.18 87.94,223.68 88.63,223.19 89.29,222.70 90.00,222.20 90.72,221.70 91.41,221.21 92.06,220.72 92.70,220.22 93.34,219.72 94.00,219.20 94.66,218.67 95.31,218.13 95.97,217.59 96.63,217.03 97.30,216.47 98.00,215.90 98.73,215.31 99.48,214.71 100.25,214.10 101.02,213.49 101.77,212.89 102.50,212.30 103.20,211.72 103.89,211.15 104.56,210.59 105.22,210.04 105.87,209.51 106.50,209.00 107.11,208.52 107.70,208.07 108.27,207.64 108.84,207.22 109.42,206.81 110.00,206.40 110.64,205.97 111.33,205.53 112.02,205.09 112.66,204.69 113.21,204.35 113.60,204.10 120.30,200.90 127.00,200.90 133.70,204.80 134.40,205.44 135.38,206.33 136.54,207.38 137.76,208.49 138.95,209.57 140.00,210.50 140.91,211.31 141.76,212.07 142.58,212.79 143.38,213.48 144.18,214.15 145.00,214.80 145.83,215.44 146.67,216.05 147.50,216.64 148.33,217.21 149.17,217.77 150.00,218.30 150.83,218.81 151.67,219.29 152.50,219.76 153.33,220.21 154.17,220.65 155.00,221.10 155.83,221.55 156.67,222.01 157.50,222.46 158.33,222.89 159.17,223.31 160.00,223.70 160.83,224.06 161.67,224.40 162.50,224.72 163.33,225.02 164.17,225.31 165.00,225.60 165.78,225.87 166.48,226.11 167.19,226.34 167.96,226.58 168.88,226.83 170.00,227.10 171.38,227.41 172.96,227.75 174.69,228.10 176.48,228.45 178.28,228.79 180.00,229.10 181.67,229.38 183.33,229.65 185.00,229.90 186.67,230.14 188.33,230.37 190.00,230.60 191.61,230.82 193.15,231.03 194.69,231.23 196.30,231.43 198.04,231.62 200.00,231.80 202.03,231.98 204.04,232.16 206.19,232.33 208.63,232.49 211.52,232.65 215.00,232.80 219.60,232.95 225.30,233.11 231.44,233.26 237.37,233.40 242.44,233.52 246.00,233.60" fill="none" stroke="#0000ff" stroke-width="1.70" stroke-linejoin="round" stroke-linecap="round"/>
<polyline points="41.50,220.10 42.41,220.14 43.65,220.20 45.12,220.27 46.74,220.32 48.40,220.34 50.00,220.30 51.60,220.19 53.28,220.04 55.00,219.84 56.72,219.63 58.40,219.41 60.00,219.20 61.50,219.01 62.94,218.81 64.34,218.62 65.72,218.41 67.10,218.17 68.50,217.90 69.92,217.61 71.33,217.31 72.75,216.98 74.17,216.61 75.58,216.19 77.00,215.70 78.44,215.15 79.90,214.54 81.36,213.89 82.79,213.17 84.18,212.37 85.50,211.50 86.73,210.55 87.89,209.52 89.01,208.42 90.10,207.26 91.19,206.01 92.30,204.70 93.43,203.31 94.57,201.84 95.70,200.31 96.83,198.70 97.97,197.03 99.10,195.30 100.22,193.50 101.33,191.62 102.44,189.68 103.57,187.68 104.71,185.65 105.90,183.60 107.22,181.36 108.69,178.88 110.18,176.37 111.57,174.02 112.75,172.03 113.60,170.60 120.30,166.10 127.00,167.80 133.70,176.60 134.40,177.67 135.38,179.16 136.54,180.93 137.76,182.80 138.95,184.65 140.00,186.30 140.91,187.77 141.76,189.18 142.58,190.55 143.38,191.91 144.18,193.29 145.00,194.70 145.83,196.17 146.67,197.69 147.50,199.21 148.33,200.73 149.17,202.20 150.00,203.60 150.83,204.94 151.67,206.26 152.50,207.53 153.33,208.74 154.17,209.91 155.00,211.00 155.83,212.02 156.67,212.97 157.50,213.87 158.33,214.71 159.17,215.52 160.00,216.30 160.83,217.04 161.67,217.74 162.50,218.40 163.33,219.03 164.17,219.62 165.00,220.20 165.83,220.75 166.67,221.26 167.50,221.75 168.33,222.21 169.17,222.66 170.00,223.10 170.83,223.52 171.67,223.92 172.50,224.30 173.33,224.67 174.17,225.04 175.00,225.40 175.83,225.77 176.67,226.14 177.50,226.50 178.33,226.85 179.17,227.19 180.00,227.50 180.83,227.79 181.67,228.06 182.50,228.31 183.33,228.55 184.17,228.78 185.00,229.00 185.83,229.21 186.67,229.41 187.50,229.61 188.33,229.79 189.17,229.95 190.00,230.10 190.78,230.22 191.48,230.32 192.19,230.40 192.96,230.48 193.88,230.58 195.00,230.70 196.38,230.86 197.96,231.04 199.69,231.24 201.48,231.44 203.28,231.63 205.00,231.80 206.67,231.95 208.33,232.10 210.00,232.24 211.67,232.37 213.33,232.49 215.00,232.60 216.67,232.70 218.33,232.79 220.00,232.87 221.67,232.95 223.33,233.03 225.00,233.10 226.65,233.17 228.28,233.25 229.91,233.32 231.56,233.39 233.25,233.45 235.00,233.50 236.96,233.55 239.15,233.59 241.38,233.62 243.46,233.66 245.23,233.68 246.50,233.70" fill="none" stroke="#d95319" stroke-width="1.70" stroke-linejoin="round" stroke-linecap="round"/>
<polyline points="311.50,233.80 316.00,233.77 322.46,233.74 330.00,233.69 337.70,233.64 344.67,233.58 350.00,233.50 353.58,233.40 356.11,233.27 357.91,233.14 359.28,233.00 360.54,232.89 362.00,232.80 363.54,232.75 364.89,232.71 366.12,232.70 367.33,232.70 368.60,232.70 370.00,232.70 371.44,232.70 372.81,232.70 374.25,232.71 375.85,232.73 377.73,232.76 380.00,232.80 382.52,232.86 385.19,232.94 388.12,233.03 391.48,233.13 395.39,233.22 400.00,233.30 405.09,233.37 410.52,233.44 416.50,233.51 423.26,233.58 431.02,233.64 440.00,233.70 451.46,233.76 465.48,233.82 480.50,233.87 494.96,233.93 507.31,233.97 516.00,234.00" fill="none" stroke="#8b0000" stroke-width="1.70" stroke-linejoin="round" stroke-linecap="round"/>
<polyline points="311.50,230.40 313.50,230.40 316.24,230.41 319.50,230.41 323.04,230.41 326.62,230.41 330.00,230.40 333.34,230.38 336.85,230.36 340.41,230.34 343.87,230.30 347.11,230.26 350.00,230.20 352.51,230.12 354.74,230.01 356.75,229.90 358.59,229.79 360.32,229.68 362.00,229.60 363.54,229.54 364.89,229.48 366.12,229.44 367.33,229.41 368.60,229.39 370.00,229.40 371.55,229.43 373.19,229.47 374.88,229.53 376.59,229.60 378.31,229.69 380.00,229.80 381.67,229.93 383.33,230.09 385.00,230.26 386.67,230.44 388.33,230.63 390.00,230.80 391.55,230.96 392.96,231.13 394.38,231.29 395.93,231.45 397.75,231.62 400.00,231.80 402.75,232.00 405.93,232.21 409.38,232.43 412.96,232.64 416.55,232.84 420.00,233.00 422.69,233.12 424.59,233.22 426.50,233.29 429.19,233.36 433.43,233.42 440.00,233.50 450.31,233.59 464.00,233.69 479.25,233.78 494.22,233.87 507.08,233.95 516.00,234.00" fill="none" stroke="#00ffff" stroke-width="1.70" stroke-linejoin="round" stroke-linecap="round"/>
<polyline points="311.50,221.60 312.35,221.58 313.46,221.54 314.81,221.50 316.37,221.47 318.11,221.47 320.00,221.50 322.12,221.60 324.52,221.75 327.09,221.93 329.76,222.10 332.42,222.23 335.00,222.30 337.53,222.29 340.11,222.23 342.69,222.13 345.22,222.01 347.67,221.90 350.00,221.80 352.22,221.70 354.37,221.59 356.43,221.48 358.40,221.39 360.26,221.32 362.00,221.30 363.67,221.34 365.29,221.44 366.80,221.57 368.14,221.70 369.26,221.82 370.10,221.90 370.74,222.07 371.63,222.29 372.68,222.56 373.81,222.86 374.94,223.18 376.00,223.50 376.99,223.83 377.99,224.19 378.99,224.56 380.00,224.94 381.00,225.32 382.00,225.70 382.99,226.09 383.96,226.49 384.94,226.89 385.93,227.29 386.94,227.66 388.00,228.00 389.13,228.30 390.33,228.58 391.56,228.84 392.78,229.07 393.94,229.29 395.00,229.50 395.89,229.68 396.63,229.83 397.31,229.96 398.04,230.09 398.90,230.23 400.00,230.40 401.32,230.61 402.78,230.84 404.38,231.09 406.11,231.34 407.99,231.58 410.00,231.80 412.15,231.99 414.44,232.17 416.88,232.34 419.44,232.50 422.15,232.66 425.00,232.80 427.45,232.94 429.41,233.06 431.50,233.18 434.37,233.29 438.66,233.40 445.00,233.50 454.70,233.60 467.52,233.70 481.75,233.79 495.70,233.88 507.69,233.95 516.00,234.00" fill="none" stroke="#ff0000" stroke-width="1.70" stroke-linejoin="round" stroke-linecap="round"/>
<polyline points="311.50,215.30 312.35,215.29 313.46,215.26 314.81,215.24 316.37,215.23 318.11,215.24 320.00,215.30 322.12,215.42 324.52,215.60 327.09,215.81 329.76,216.01 332.42,216.19 335.00,216.30 337.56,216.35 340.19,216.37 342.81,216.35 345.37,216.31 347.79,216.26 350.00,216.20 351.96,216.11 353.72,215.97 355.34,215.82 356.88,215.69 358.41,215.61 360.00,215.60 361.73,215.70 363.59,215.88 365.43,216.11 367.13,216.35 368.56,216.56 369.60,216.70 370.29,217.08 371.24,217.60 372.36,218.22 373.59,218.89 374.82,219.56 376.00,220.20 377.13,220.81 378.29,221.44 379.47,222.07 380.65,222.70 381.83,223.32 383.00,223.90 384.18,224.47 385.37,225.04 386.57,225.59 387.74,226.11 388.86,226.58 389.90,227.00 390.86,227.35 391.74,227.63 392.57,227.88 393.37,228.09 394.18,228.29 395.00,228.50 395.78,228.70 396.49,228.88 397.19,229.04 397.97,229.21 398.88,229.39 400.00,229.60 401.32,229.84 402.78,230.11 404.38,230.39 406.11,230.67 407.99,230.94 410.00,231.20 412.15,231.44 414.44,231.67 416.88,231.89 419.44,232.11 422.15,232.31 425.00,232.50 427.45,232.68 429.41,232.84 431.50,232.99 434.37,233.14 438.66,233.27 445.00,233.40 454.70,233.52 467.52,233.64 481.75,233.76 495.70,233.86 507.69,233.94 516.00,234.00" fill="none" stroke="#00ff00" stroke-width="1.70" stroke-linejoin="round" stroke-linecap="round"/>
<polyline points="311.50,209.30 312.41,209.29 313.65,209.27 315.12,209.25 316.74,209.24 318.40,209.25 320.00,209.30 321.58,209.39 323.22,209.52 324.91,209.67 326.61,209.83 328.32,209.97 330.00,210.10 331.67,210.21 333.33,210.31 335.00,210.41 336.67,210.50 338.33,210.56 340.00,210.60 341.72,210.61 343.52,210.59 345.31,210.54 347.04,210.49 348.62,210.44 350.00,210.40 351.10,210.36 351.96,210.31 352.69,210.27 353.37,210.23 354.11,210.20 355.00,210.20 356.05,210.21 357.18,210.24 358.36,210.27 359.58,210.33 360.80,210.40 362.00,210.50 363.27,210.64 364.65,210.82 366.04,211.02 367.33,211.21 368.41,211.38 369.20,211.50 369.94,212.00 370.96,212.69 372.16,213.50 373.47,214.38 374.78,215.27 376.00,216.10 377.24,216.94 378.58,217.86 379.93,218.79 381.18,219.65 382.24,220.38 383.00,220.90 383.86,221.50 385.06,222.36 386.48,223.36 387.99,224.39 389.47,225.34 390.80,226.10 391.97,226.66 393.09,227.11 394.17,227.47 395.25,227.79 396.35,228.09 397.50,228.40 398.67,228.71 399.85,228.99 401.04,229.26 402.29,229.51 403.60,229.75 405.00,230.00 406.46,230.25 407.96,230.49 409.53,230.72 411.20,230.96 413.02,231.18 415.00,231.40 417.15,231.62 419.44,231.83 421.88,232.04 424.44,232.24 427.15,232.43 430.00,232.60 432.51,232.76 434.59,232.90 436.81,233.04 439.74,233.16 443.95,233.28 450.00,233.40 459.10,233.52 471.04,233.64 484.25,233.75 497.19,233.85 508.29,233.94 516.00,234.00" fill="none" stroke="#0000b4" stroke-width="1.70" stroke-linejoin="round" stroke-linecap="round"/>
<polyline points="311.50,143.10 311.86,143.03 312.35,142.93 312.94,142.82 313.59,142.71 314.29,142.63 315.00,142.60 315.75,142.61 316.56,142.65 317.41,142.72 318.28,142.81 319.15,142.94 320.00,143.10 320.83,143.30 321.67,143.55 322.50,143.82 323.33,144.12 324.17,144.41 325.00,144.70 325.83,144.98 326.67,145.28 327.50,145.57 328.33,145.87 329.17,146.14 330.00,146.40 330.83,146.64 331.67,146.87 332.50,147.08 333.33,147.28 334.17,147.45 335.00,147.60 335.83,147.72 336.67,147.82 337.50,147.90 338.33,147.96 339.17,147.99 340.00,148.00 340.83,147.98 341.67,147.94 342.50,147.87 343.33,147.79 344.17,147.69 345.00,147.60 345.83,147.49 346.67,147.35 347.50,147.21 348.33,147.07 349.17,146.96 350.00,146.90 350.83,146.88 351.67,146.89 352.50,146.92 353.33,146.98 354.17,147.07 355.00,147.20 355.84,147.35 356.70,147.53 357.56,147.73 358.41,147.97 359.22,148.26 360.00,148.60 360.72,148.99 361.39,149.42 362.03,149.89 362.66,150.41 363.31,150.98 364.00,151.60 364.79,152.34 365.66,153.21 366.55,154.14 367.39,155.02 368.09,155.77 368.60,156.30 369.49,158.68 370.73,161.98 372.19,165.89 373.77,170.10 375.34,174.30 376.80,178.20 378.25,182.09 379.81,186.28 381.36,190.47 382.80,194.35 384.02,197.63 384.90,200.00 385.28,200.71 385.81,201.71 386.44,202.89 387.11,204.13 387.75,205.30 388.30,206.30 388.76,207.10 389.17,207.80 389.56,208.44 389.95,209.06 390.35,209.70 390.80,210.40 391.29,211.16 391.80,211.96 392.34,212.77 392.89,213.59 393.44,214.40 394.00,215.20 394.57,215.99 395.14,216.80 395.73,217.59 396.32,218.37 396.91,219.11 397.50,219.80 398.08,220.44 398.65,221.03 399.22,221.59 399.80,222.11 400.39,222.62 401.00,223.10 401.63,223.56 402.26,223.98 402.91,224.37 403.57,224.76 404.27,225.13 405.00,225.50 405.78,225.88 406.59,226.25 407.44,226.61 408.30,226.96 409.16,227.29 410.00,227.60 410.83,227.88 411.67,228.13 412.50,228.36 413.33,228.58 414.17,228.79 415.00,229.00 415.78,229.20 416.48,229.38 417.19,229.55 417.96,229.72 418.88,229.90 420.00,230.10 421.38,230.32 422.96,230.56 424.69,230.81 426.48,231.06 428.28,231.29 430.00,231.50 431.67,231.68 433.33,231.85 435.00,232.00 436.67,232.14 438.33,232.27 440.00,232.40 441.67,232.52 443.33,232.63 445.00,232.73 446.67,232.82 448.33,232.91 450.00,233.00 451.44,233.09 452.59,233.18 453.75,233.26 455.19,233.34 457.18,233.42 460.00,233.50 463.89,233.57 468.67,233.65 474.00,233.72 479.56,233.79 485.00,233.85 490.00,233.90 494.87,233.95 499.93,233.99 504.88,234.03 509.41,234.06 513.22,234.08 516.00,234.10" fill="none" stroke="#d95319" stroke-width="1.70" stroke-linejoin="round" stroke-linecap="round"/>
<rect x="41.50" y="12.50" width="205.00" height="92.00" fill="none" stroke="#8a8a8a" stroke-width="1"/>
<line x1="92.62" y1="104.50" x2="92.62" y2="102.30" stroke="#8a8a8a" stroke-width="1"/>
<line x1="92.62" y1="12.50" x2="92.62" y2="14.70" stroke="#8a8a8a" stroke-width="1"/>
<line x1="143.95" y1="104.50" x2="143.95" y2="102.30" stroke="#8a8a8a" stroke-width="1"/>
<line x1="143.95" y1="12.50" x2="143.95" y2="14.70" stroke="#8a8a8a" stroke-width="1"/>
<line x1="195.27" y1="104.50" x2="195.27" y2="102.30" stroke="#8a8a8a" stroke-width="1"/>
<line x1="195.27" y1="12.50" x2="195.27" y2="14.70" stroke="#8a8a8a" stroke-width="1"/>
<line x1="41.50" y1="73.63" x2="43.70" y2="73.63" stroke="#8a8a8a" stroke-width="1"/>
<line x1="246.50" y1="73.63" x2="244.30" y2="73.63" stroke="#8a8a8a" stroke-width="1"/>
<line x1="41.50" y1="42.97" x2="43.70" y2="42.97" stroke="#8a8a8a" stroke-width="1"/>
<line x1="246.50" y1="42.97" x2="244.30" y2="42.97" stroke="#8a8a8a" stroke-width="1"/>
<rect x="311.50" y="12.50" width="205.00" height="92.00" fill="none" stroke="#8a8a8a" stroke-width="1"/>
<line x1="362.62" y1="104.50" x2="362.62" y2="102.30" stroke="#8a8a8a" stroke-width="1"/>
<line x1="362.62" y1="12.50" x2="362.62" y2="14.70" stroke="#8a8a8a" stroke-width="1"/>
<line x1="413.95" y1="104.50" x2="413.95" y2="102.30" stroke="#8a8a8a" stroke-width="1"/>
<line x1="413.95" y1="12.50" x2="413.95" y2="14.70" stroke="#8a8a8a" stroke-width="1"/>
<line x1="465.27" y1="104.50" x2="465.27" y2="102.30" stroke="#8a8a8a" stroke-width="1"/>
<line x1="465.27" y1="12.50" x2="465.27" y2="14.70" stroke="#8a8a8a" stroke-width="1"/>
<line x1="311.50" y1="75.18" x2="313.70" y2="75.18" stroke="#8a8a8a" stroke-width="1"/>
<line x1="516.50" y1="75.18" x2="514.30" y2="75.18" stroke="#8a8a8a" stroke-width="1"/>
<line x1="311.50" y1="46.06" x2="313.70" y2="46.06" stroke="#8a8a8a" stroke-width="1"/>
<line x1="516.50" y1="46.06" x2="514.30" y2="46.06" stroke="#8a8a8a" stroke-width="1"/>
<line x1="311.50" y1="16.94" x2="313.70" y2="16.94" stroke="#8a8a8a" stroke-width="1"/>
<line x1="516.50" y1="16.94" x2="514.30" y2="16.94" stroke="#8a8a8a" stroke-width="1"/>
<rect x="41.50" y="142.50" width="205.00" height="92.00" fill="none" stroke="#8a8a8a" stroke-width="1"/>
<line x1="92.62" y1="234.50" x2="92.62" y2="232.30" stroke="#8a8a8a" stroke-width="1"/>
<line x1="92.62" y1="142.50" x2="92.62" y2="144.70" stroke="#8a8a8a" stroke-width="1"/>
<line x1="143.95" y1="234.50" x2="143.95" y2="232.30" stroke="#8a8a8a" stroke-width="1"/>
<line x1="143.95" y1="142.50" x2="143.95" y2="144.70" stroke="#8a8a8a" stroke-width="1"/>
<line x1="195.27" y1="234.50" x2="195.27" y2="232.30" stroke="#8a8a8a" stroke-width="1"/>
<line x1="195.27" y1="142.50" x2="195.27" y2="144.70" stroke="#8a8a8a" stroke-width="1"/>
<line x1="41.50" y1="203.63" x2="43.70" y2="203.63" stroke="#8a8a8a" stroke-width="1"/>
<line x1="246.50" y1="203.63" x2="244.30" y2="203.63" stroke="#8a8a8a" stroke-width="1"/>
<line x1="41.50" y1="172.96" x2="43.70" y2="172.96" stroke="#8a8a8a" stroke-width="1"/>
<line x1="246.50" y1="172.96" x2="244.30" y2="172.96" stroke="#8a8a8a" stroke-width="1"/>
<rect x="311.50" y="142.50" width="205.00" height="92.00" fill="none" stroke="#8a8a8a" stroke-width="1"/>
<line x1="362.62" y1="234.50" x2="362.62" y2="232.30" stroke="#8a8a8a" stroke-width="1"/>
<line x1="362.62" y1="142.50" x2="362.62" y2="144.70" stroke="#8a8a8a" stroke-width="1"/>
<line x1="413.95" y1="234.50" x2="413.95" y2="232.30" stroke="#8a8a8a" stroke-width="1"/>
<line x1="413.95" y1="142.50" x2="413.95" y2="144.70" stroke="#8a8a8a" stroke-width="1"/>
<line x1="465.27" y1="234.50" x2="465.27" y2="232.30" stroke="#8a8a8a" stroke-width="1"/>
<line x1="465.27" y1="142.50" x2="465.27" y2="144.70" stroke="#8a8a8a" stroke-width="1"/>
<line x1="311.50" y1="204.35" x2="313.70" y2="204.35" stroke="#8a8a8a" stroke-width="1"/>
<line x1="516.50" y1="204.35" x2="514.30" y2="204.35" stroke="#8a8a8a" stroke-width="1"/>
<line x1="311.50" y1="174.30" x2="313.70" y2="174.30" stroke="#8a8a8a" stroke-width="1"/>
<line x1="516.50" y1="174.30" x2="514.30" y2="174.30" stroke="#8a8a8a" stroke-width="1"/>
<line x1="311.50" y1="144.25" x2="313.70" y2="144.25" stroke="#8a8a8a" stroke-width="1"/>
<line x1="516.50" y1="144.25" x2="514.30" y2="144.25" stroke="#8a8a8a" stroke-width="1"/>
<text transform="translate(37.60,109.10) scale(0.94,1)" font-size="10.50" text-anchor="end">300</text>
<text transform="translate(37.60,78.43) scale(0.94,1)" font-size="10.50" text-anchor="end">400</text>
<text transform="translate(37.60,47.77) scale(0.94,1)" font-size="10.50" text-anchor="end">500</text>
<text transform="translate(37.60,17.10) scale(0.94,1)" font-size="10.50" text-anchor="end">600</text>
<text transform="translate(307.60,108.70) scale(0.94,1)" font-size="10.50" text-anchor="end">300</text>
<text transform="translate(307.60,79.58) scale(0.94,1)" font-size="10.50" text-anchor="end">400</text>
<text transform="translate(307.60,50.46) scale(0.94,1)" font-size="10.50" text-anchor="end">500</text>
<text transform="translate(307.60,21.34) scale(0.94,1)" font-size="10.50" text-anchor="end">600</text>
<text transform="translate(37.60,238.70) scale(0.94,1)" font-size="10.50" text-anchor="end">0</text>
<text transform="translate(37.60,208.03) scale(0.94,1)" font-size="10.50" text-anchor="end">1</text>
<text transform="translate(37.60,177.36) scale(0.94,1)" font-size="10.50" text-anchor="end">2</text>
<text transform="translate(37.60,146.69) scale(0.94,1)" font-size="10.50" text-anchor="end">3</text>
<text transform="translate(307.60,238.70) scale(0.94,1)" font-size="10.50" text-anchor="end">0</text>
<text transform="translate(307.60,208.65) scale(0.94,1)" font-size="10.50" text-anchor="end">1</text>
<text transform="translate(307.60,178.60) scale(0.94,1)" font-size="10.50" text-anchor="end">2</text>
<text transform="translate(307.60,148.55) scale(0.94,1)" font-size="10.50" text-anchor="end">3</text>
<text x="41.30" y="247.80" font-size="10.50" text-anchor="middle" font-weight="normal" >0</text>
<text x="92.62" y="247.80" font-size="10.50" text-anchor="middle" font-weight="normal" >0.05</text>
<text x="143.95" y="247.80" font-size="10.50" text-anchor="middle" font-weight="normal" >0.1</text>
<text x="195.27" y="247.80" font-size="10.50" text-anchor="middle" font-weight="normal" >0.15</text>
<text x="246.60" y="247.80" font-size="10.50" text-anchor="middle" font-weight="normal" >0.2</text>
<text x="311.30" y="247.80" font-size="10.50" text-anchor="middle" font-weight="normal" >0</text>
<text x="362.62" y="247.80" font-size="10.50" text-anchor="middle" font-weight="normal" >0.1</text>
<text x="413.95" y="247.80" font-size="10.50" text-anchor="middle" font-weight="normal" >0.2</text>
<text x="465.27" y="247.80" font-size="10.50" text-anchor="middle" font-weight="normal" >0.3</text>
<text x="516.60" y="247.80" font-size="10.50" text-anchor="middle" font-weight="normal" >0.4</text>
<text x="143.90" y="262.50" font-size="11.30" text-anchor="middle" font-weight="normal" >Distance from inlet (m)</text>
<text x="413.90" y="262.50" font-size="11.30" text-anchor="middle" font-weight="normal" >Distance from inlet (m)</text>
<text x="143.60" y="8.20" font-size="11.00" text-anchor="middle" font-weight="bold" >(a) O-div</text>
<text x="413.80" y="8.20" font-size="11.00" text-anchor="middle" font-weight="bold" >(b)In-div</text>
<text x="169.60" y="161.90" font-size="11.50" text-anchor="middle" font-weight="bold" >(c)</text>
<text x="436.40" y="160.20" font-size="11.50" text-anchor="middle" font-weight="bold" >(d)</text>
<text x="41.90" y="139.90" font-size="11">&#215;<tspan dx="1.6" font-size="10.4">10</tspan><tspan font-size="8.2" dy="-5.5" dx="-0.6">23</tspan></text>
<text x="311.90" y="139.90" font-size="11">&#215;<tspan dx="1.6" font-size="10.4">10</tspan><tspan font-size="8.2" dy="-5.5" dx="-0.6">23</tspan></text>
<text transform="rotate(-90)" x="-79.90" y="11.00" font-size="11.00" >T</text>
<text transform="rotate(-90)" x="-72.35" y="17.00" font-size="8.20" >surf</text>
<text transform="rotate(-90)" x="-57.30" y="11.10" font-size="11.00" >(</text>
<circle cx="1.20" cy="50.9" r="1.35" fill="none" stroke="#111" stroke-width="0.85"/>
<text transform="rotate(-90)" x="-49.65" y="11.10" font-size="11.00" >C)</text>
<text transform="rotate(-90)" x="-79.90" y="281.00" font-size="11.00" >T</text>
<text transform="rotate(-90)" x="-72.35" y="287.00" font-size="8.20" >surf</text>
<text transform="rotate(-90)" x="-57.30" y="281.10" font-size="11.00" >(</text>
<circle cx="271.20" cy="50.9" r="1.35" fill="none" stroke="#111" stroke-width="0.85"/>
<text transform="rotate(-90)" x="-49.65" y="281.10" font-size="11.00" >C)</text>
<text transform="rotate(-90) scale(0.82,1)" x="-262.20" y="22.80" font-size="11.6" font-family="Liberation Serif, serif" style="font-family:'Liberation Serif',serif">&#915;</text>
<text transform="rotate(-90)" x="-208.80" y="16.90" font-size="9.30" >loss</text>
<text transform="rotate(-90)" x="-208.20" y="27.80" font-size="9.00" >Li</text>
<text transform="rotate(-90)" x="-191.30" y="22.10" font-size="11.00" >(/m</text>
<text transform="rotate(-90)" x="-176.50" y="16.40" font-size="9.50" >2</text>
<text transform="rotate(-90)" x="-170.80" y="22.10" font-size="11.00" >s)</text>
<text transform="rotate(-90) scale(0.82,1)" x="-262.20" y="292.80" font-size="11.6" font-family="Liberation Serif, serif" style="font-family:'Liberation Serif',serif">&#915;</text>
<text transform="rotate(-90)" x="-208.80" y="286.90" font-size="9.30" >loss</text>
<text transform="rotate(-90)" x="-208.20" y="297.80" font-size="9.00" >Li</text>
<text transform="rotate(-90)" x="-191.30" y="292.10" font-size="11.00" >(/m</text>
<text transform="rotate(-90)" x="-176.50" y="286.40" font-size="9.50" >2</text>
<text transform="rotate(-90)" x="-170.80" y="292.10" font-size="11.00" >s)</text>
<rect x="75.50" y="90.50" width="138.00" height="45.00" fill="#fff" stroke="#8a8a8a" stroke-width="1"/>
<line x1="77.50" y1="98.80" x2="97.50" y2="98.80" stroke="#8b0000" stroke-width="1.70"/>
<text x="99.00" y="100.80" font-size="8.10" font-weight="bold" fill="#000">u<tspan font-size="6.4" dy="3.7">Li</tspan><tspan dy="-3.7">=7.5 m/s</tspan></text>
<line x1="146.20" y1="98.80" x2="166.20" y2="98.80" stroke="#00ff00" stroke-width="1.70"/>
<text x="167.90" y="100.80" font-size="8.10" font-weight="bold" fill="#000">u<tspan font-size="6.4" dy="3.7">Li</tspan><tspan dy="-3.7">=1.5 m/s</tspan></text>
<line x1="77.50" y1="113.10" x2="97.50" y2="113.10" stroke="#00ffff" stroke-width="1.70"/>
<text x="99.00" y="115.10" font-size="8.10" font-weight="bold" fill="#000">u<tspan font-size="6.4" dy="3.7">Li</tspan><tspan dy="-3.7">=3 m/s</tspan></text>
<line x1="146.20" y1="113.10" x2="166.20" y2="113.10" stroke="#0000ff" stroke-width="1.70"/>
<text x="167.90" y="115.10" font-size="8.10" font-weight="bold" fill="#000">u<tspan font-size="6.4" dy="3.7">Li</tspan><tspan dy="-3.7">=1.0 m/s</tspan></text>
<line x1="77.50" y1="127.40" x2="97.50" y2="127.40" stroke="#ff0000" stroke-width="1.70"/>
<text x="99.00" y="129.40" font-size="8.10" font-weight="bold" fill="#000">u<tspan font-size="6.4" dy="3.7">Li</tspan><tspan dy="-3.7">=2 m/s</tspan></text>
<line x1="146.20" y1="127.40" x2="166.20" y2="127.40" stroke="#d95319" stroke-width="1.70"/>
<text x="167.90" y="129.40" font-size="8.10" font-weight="bold" fill="#000">u<tspan font-size="6.4" dy="3.7">Li</tspan><tspan dy="-3.7">=0.5 m/s</tspan></text>
<rect x="348.50" y="92.50" width="152.00" height="45.00" fill="#fff" stroke="#8a8a8a" stroke-width="1"/>
<line x1="350.50" y1="100.40" x2="370.50" y2="100.40" stroke="#8b0000" stroke-width="1.70"/>
<text x="372.00" y="102.40" font-size="8.10" font-weight="bold" fill="#000">u<tspan font-size="6.4" dy="3.7">Li</tspan><tspan dy="-3.7">=1.5 m/s</tspan></text>
<line x1="424.00" y1="100.40" x2="444.00" y2="100.40" stroke="#00ff00" stroke-width="1.70"/>
<text x="445.70" y="102.40" font-size="8.10" font-weight="bold" fill="#000">u<tspan font-size="6.4" dy="3.7">Li</tspan><tspan dy="-3.7">=0.37 m/s</tspan></text>
<line x1="350.50" y1="114.70" x2="370.50" y2="114.70" stroke="#00ffff" stroke-width="1.70"/>
<text x="372.00" y="116.70" font-size="8.10" font-weight="bold" fill="#000">u<tspan font-size="6.4" dy="3.7">Li</tspan><tspan dy="-3.7">=0.53 m/s</tspan></text>
<line x1="424.00" y1="114.70" x2="444.00" y2="114.70" stroke="#0000b4" stroke-width="1.70"/>
<text x="445.70" y="116.70" font-size="8.10" font-weight="bold" fill="#000">u<tspan font-size="6.4" dy="3.7">Li</tspan><tspan dy="-3.7">=0.35 m/s</tspan></text>
<line x1="350.50" y1="129.00" x2="370.50" y2="129.00" stroke="#ff0000" stroke-width="1.70"/>
<text x="372.00" y="131.00" font-size="8.10" font-weight="bold" fill="#000">u<tspan font-size="6.4" dy="3.7">Li</tspan><tspan dy="-3.7">=0.4 m/s</tspan></text>
<line x1="424.00" y1="129.00" x2="444.00" y2="129.00" stroke="#d95319" stroke-width="1.70"/>
<text x="445.70" y="131.00" font-size="8.10" font-weight="bold" fill="#000">u<tspan font-size="6.4" dy="3.7">Li</tspan><tspan dy="-3.7">=0.275 m/s</tspan></text>
</svg>
</body></html>
